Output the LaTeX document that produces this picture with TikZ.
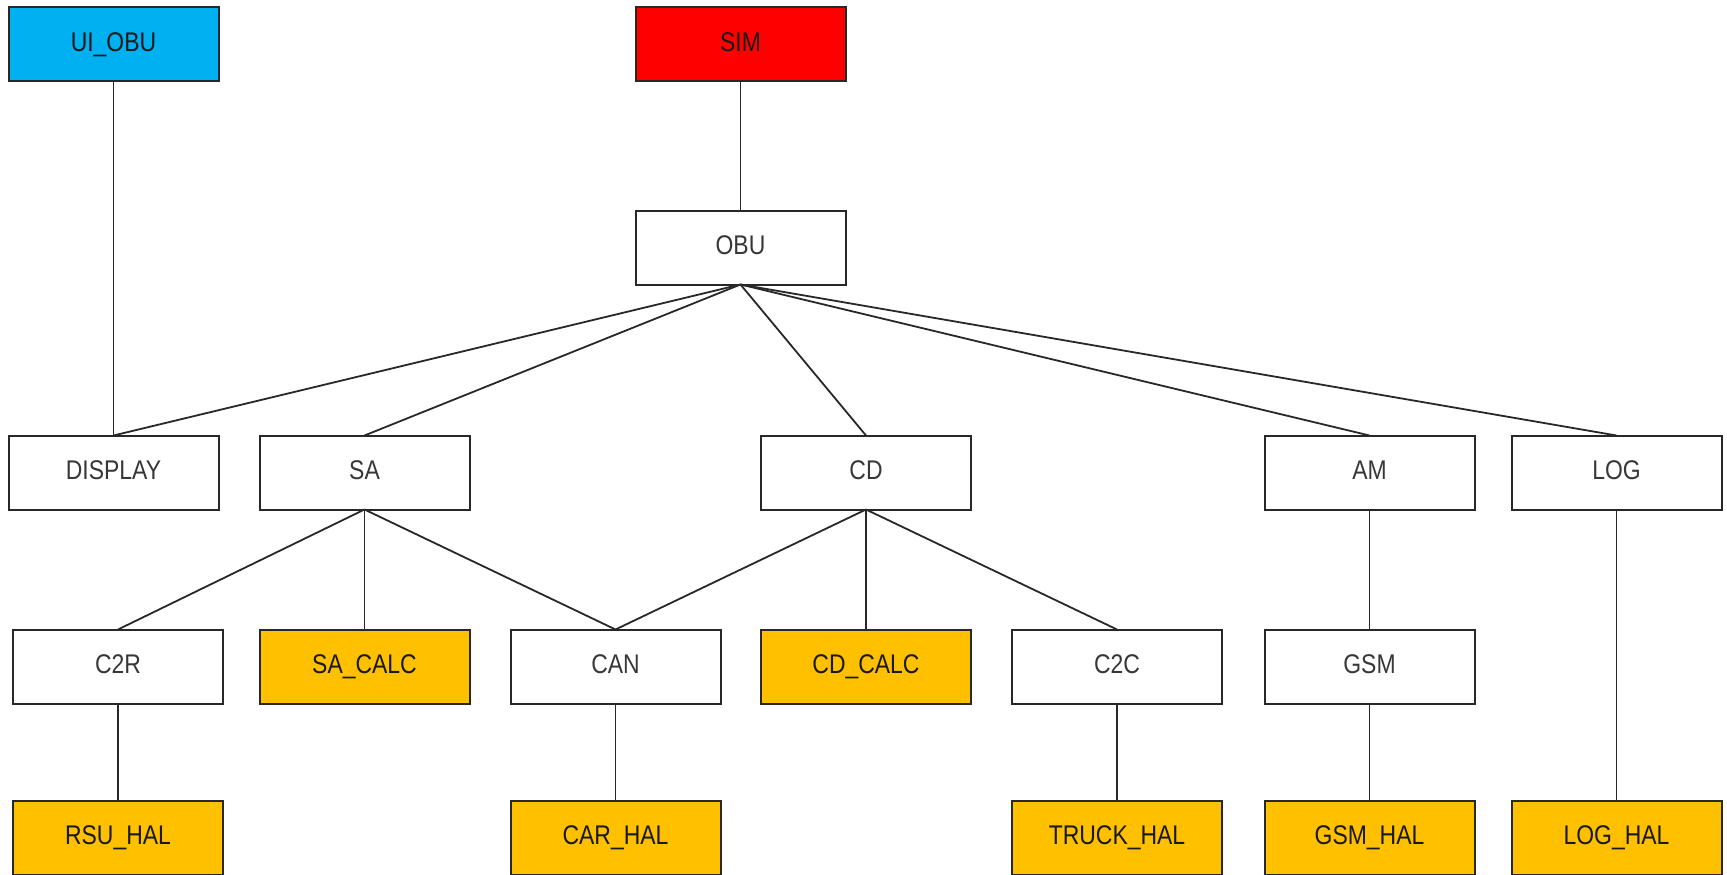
\documentclass[tikz,border=0pt]{standalone}
\usepackage{fontspec}
\setmainfont{Liberation Sans}[FakeStretch=0.85]
\definecolor{uiblue}{RGB}{0,176,240}
\definecolor{simred}{RGB}{255,0,0}
\definecolor{halorange}{RGB}{255,192,0}
\definecolor{edgegray}{RGB}{40,40,40}
\definecolor{txtgray}{RGB}{55,55,55}
\tikzset{
  modbox/.style={draw=edgegray, line width=2pt, fill=white, minimum width=210pt, minimum height=74pt,
    inner sep=0pt, outer sep=0pt, text height=20pt, text depth=6pt, text=txtgray,
    font=\fontsize{27}{32}\selectfont},
  uibox/.style={modbox, fill=uiblue, text=black!90},
  simbox/.style={modbox, fill=simred, text=black!90},
  halbox/.style={modbox, fill=halorange, text=black!90},
  link/.style={draw=edgegray, line width=1.8pt}
}
\begin{document}
\begin{tikzpicture}[x=1pt, y=-1pt]
\useasboundingbox (0,0) rectangle (1727,875);
% row 1
\node[uibox]  (uiobu) at (113.5,44.5) {UI\_OBU};
\node[simbox] (sim)   at (740.5,44.5) {SIM};
% row 2
\node[modbox] (obu)   at (740.5,247.5) {OBU};
% row 3
\node[modbox] (display) at (113.5,472.5) {DISPLAY};
\node[modbox] (sa)      at (364.5,472.5) {SA};
\node[modbox] (cd)      at (866,472.5) {CD};
\node[modbox] (am)      at (1369.5,472.5) {AM};
\node[modbox] (log)     at (1616.5,472.5) {LOG};
% row 4
\node[modbox] (c2r)    at (118,666.5) {C2R};
\node[halbox] (sacalc) at (364.5,666.5) {SA\_CALC};
\node[modbox] (can)    at (615.5,666.5) {CAN};
\node[halbox] (cdcalc) at (866,666.5) {CD\_CALC};
\node[modbox] (c2c)    at (1117,666.5) {C2C};
\node[modbox] (gsm)    at (1369.5,666.5) {GSM};
% row 5
\node[halbox] (rsuhal)   at (118,837.5) {RSU\_HAL};
\node[halbox] (carhal)   at (615.5,837.5) {CAR\_HAL};
\node[halbox] (truckhal) at (1117,837.5) {TRUCK\_HAL};
\node[halbox] (gsmhal)   at (1369.5,837.5) {GSM\_HAL};
\node[halbox] (loghal)   at (1616.5,837.5) {LOG\_HAL};
% connectors
\draw[link] (uiobu.south) -- (display.north);
\draw[link] (sim.south) -- (obu.north);
\draw[link] (obu.south) -- (display.north);
\draw[link] (obu.south) -- (sa.north);
\draw[link] (obu.south) -- (cd.north);
\draw[link] (obu.south) -- (am.north);
\draw[link] (obu.south) -- (log.north);
\draw[link] (sa.south) -- (c2r.north);
\draw[link] (sa.south) -- (sacalc.north);
\draw[link] (sa.south) -- (can.north);
\draw[link] (cd.south) -- (can.north);
\draw[link] (cd.south) -- (cdcalc.north);
\draw[link] (cd.south) -- (c2c.north);
\draw[link] (am.south) -- (gsm.north);
\draw[link] (gsm.south) -- (gsmhal.north);
\draw[link] (log.south) -- (loghal.north);
\draw[link] (c2r.south) -- (rsuhal.north);
\draw[link] (can.south) -- (carhal.north);
\draw[link] (c2c.south) -- (truckhal.north);
\end{tikzpicture}
\end{document}
